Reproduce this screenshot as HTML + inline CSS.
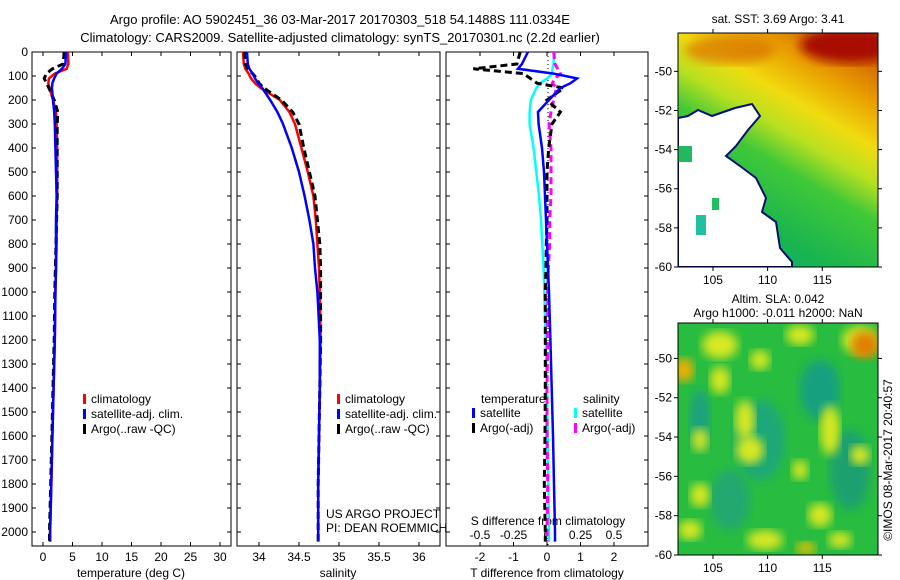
<!DOCTYPE html>
<html><head><meta charset="utf-8">
<style>
html,body{margin:0;padding:0;background:#fff;}
svg{display:block;font-family:"Liberation Sans",sans-serif;}
text{font-size:12px;fill:#000;}
</style></head>
<body>
<svg id="fig" width="900" height="580" viewBox="0 0 900 580" xmlns="http://www.w3.org/2000/svg">
<defs>
<linearGradient id="sstg" x1="0.75" y1="0" x2="0.25" y2="1">
<stop offset="0" stop-color="#d06800"/><stop offset="0.15" stop-color="#eaa000"/>
<stop offset="0.3" stop-color="#f0dc10"/><stop offset="0.42" stop-color="#b8e020"/>
<stop offset="0.55" stop-color="#40c838"/><stop offset="0.8" stop-color="#18b450"/><stop offset="1" stop-color="#10b080"/>
</linearGradient>
<filter id="blur"><feGaussianBlur stdDeviation="5"/></filter>
<clipPath id="m1c"><rect x="678" y="33" width="200" height="234"/></clipPath>
<clipPath id="m2c"><rect x="678" y="323" width="200" height="232"/></clipPath>
</defs>
<g>
<text x="340" y="24" text-anchor="middle" style="font-size:13px">Argo profile: AO 5902451_36 03-Mar-2017 20170303_518 54.1488S 111.0334E</text>
<text x="340" y="42" text-anchor="middle" style="font-size:13px">Climatology: CARS2009. Satellite-adjusted climatology: synTS_20170301.nc (2.2d earlier)</text>
</g>
<g id="plots"></g>
<g id="maps"></g>
</svg>
<script>
// ---- data ----
const depth = [0,50,70,90,110,130,150,200,250,300,400,500,600,700,800,900,1000,1200,1400,1600,1800,2000,2040];
const tempClim = [4.2,4.3,4.0,2.0,1.0,0.9,1.1,1.7,2.2,2.3,2.4,2.4,2.4,2.3,2.3,2.2,2.1,2.0,1.8,1.6,1.4,1.2,1.2];
const tempSat  = [3.9,3.8,3.2,2.3,1.9,1.6,1.5,1.7,1.9,2.0,2.1,2.2,2.3,2.2,2.2,2.2,2.1,2.0,1.8,1.6,1.4,1.2,1.2];
const tempArgo = [3.6,3.4,1.6,0.6,0.2,0.6,1.0,1.9,2.5,2.4,2.4,2.4,2.4,2.3,2.2,2.1,2.0,1.9,1.7,1.5,1.3,1.1,1.1];
const salClim = [33.8,33.81,33.83,33.87,33.9,33.95,34.02,34.26,34.38,34.45,34.53,34.61,34.68,34.71,34.73,34.75,34.76,34.77,34.76,34.75,34.74,34.74,34.74];
const salSat  = [33.85,33.86,33.88,33.92,33.95,33.99,34.04,34.14,34.23,34.3,34.41,34.5,34.57,34.63,34.68,34.7,34.73,34.76,34.76,34.75,34.74,34.74,34.74];
const salArgo = [33.82,33.83,33.86,33.92,33.97,34.0,34.06,34.28,34.42,34.5,34.56,34.63,34.7,34.73,34.76,34.77,34.77,34.77,34.76,34.75,34.74,34.74,34.74];
const dTsat  = [-0.57,-0.75,-0.87,0.2,0.9,0.7,0.4,0.06,-0.27,-0.25,-0.15,-0.09,-0.06,-0.03,0,0.03,0.06,0.1,0.14,0.18,0.21,0.24,0.24];
const dTargo = [-0.8,-0.9,-2.2,-0.7,-0.5,-0.3,0.5,0,0.4,0.15,0.05,0,0,0,-0.02,-0.03,-0.05,-0.05,-0.05,-0.06,-0.08,-0.05,-0.05];
const dSsat  = [0.05,0.05,0.04,0.04,0.0,-0.05,-0.08,-0.12,-0.13,-0.13,-0.1,-0.08,-0.06,-0.045,-0.035,-0.025,-0.02,-0.01,0,0.005,0.01,0.015,0.015];
const dSargo = [0.05,0.06,0.08,0.1,0.06,0.04,0.07,0.05,0.03,0.015,0.03,0.03,0.03,0.02,0.02,0.01,0.005,0.005,0,0,0.005,0,0];
const tTicks = [0,5,10,15,20,25,30];
const sTicks = [34,34.5,35,35.5,36];
const sTickLabels = ["34","34.5","35","35.5","36"];
const dTTicks = [-2,-1,0,1,2];
const dSTicks = [-0.5,-0.25,0,0.25,0.5];
const dSTickLabels = ["-0.5","-0.25","0","0.25","0.5"];
const depthTicks = [0,100,200,300,400,500,600,700,800,900,1000,1100,1200,1300,1400,1500,1600,1700,1800,1900,2000];
const latTicks = [-50,-52,-54,-56,-58,-60];
const lonTicks = [105,110,115];

const NS="http://www.w3.org/2000/svg";
function el(tag,attrs,parent,txt){const e=document.createElementNS(NS,tag);for(const k in attrs)e.setAttribute(k,attrs[k]);if(txt!==undefined)e.textContent=txt;parent.appendChild(e);return e;}
const plots=document.getElementById('plots');
const Y0=52,Y1=546;
const yD=d=>Y0+d*0.24;
function lin(d0,d1,p0,p1){return v=>p0+(v-d0)*(p1-p0)/(d1-d0);}
const P=[
 {x0:32,x1:231,sx:lin(0,30,43,220),name:'temperature-panel'},
 {x0:237,x1:440,sx:lin(34,36,259,419),name:'salinity-panel'},
 {x0:446,x1:648,sx:lin(-2,2,480,614),name:'difference-panel'}
];
P.forEach(p=>{
 const g=el('g',{},plots);
 
 
 p.g=g;
 el('rect',{x:p.x0,y:Y0,width:p.x1-p.x0,height:Y1-Y0,fill:'none',stroke:'#000','stroke-width':1},g);
 depthTicks.forEach(d=>{const y=yD(d);
  el('line',{x1:p.x0,x2:p.x0+4,y1:y,y2:y,stroke:'#000'},g);
  el('line',{x1:p.x1,x2:p.x1-4,y1:y,y2:y,stroke:'#000'},g);});
});
const yl=el('g',{},plots);


depthTicks.forEach(d=>el('text',{x:28,y:yD(d)+4,'text-anchor':'end'},yl,String(d)));
function xticks(p,ticks,labels,sx,ylab){
 ticks.forEach((t,i)=>{const x=sx(t);
  el('line',{x1:x,x2:x,y1:Y1,y2:Y1-4,stroke:'#000'},p.g);
  el('line',{x1:x,x2:x,y1:Y0,y2:Y0+4,stroke:'#000'},p.g);
  el('text',{x:x,y:ylab,'text-anchor':'middle'},p.g,labels[i]);});
}
xticks(P[0],tTicks,tTicks.map(String),P[0].sx,561);
xticks(P[1],sTicks,sTickLabels,P[1].sx,561);
xticks(P[2],dTTicks,dTTicks.map(String),P[2].sx,561);
const sxS=lin(-0.5,0.5,480,614);
dSTicks.forEach((t,i)=>el('text',{x:sxS(t),y:539,'text-anchor':'middle'},P[2].g,dSTickLabels[i]));
el('text',{x:548,y:525,'text-anchor':'middle'},P[2].g,'S difference from climatology');
el('text',{x:131,y:577,'text-anchor':'middle'},P[0].g,'temperature (deg C)');
el('text',{x:338,y:577,'text-anchor':'middle'},P[1].g,'salinity');
el('text',{x:547,y:577,'text-anchor':'middle'},P[2].g,'T difference from climatology');
el('text',{x:326,y:518},P[1].g,'US ARGO PROJECT');
el('text',{x:326,y:532},P[1].g,'PI: DEAN ROEMMICH');
el('line',{x1:548,x2:548,y1:Y0,y2:Y1,stroke:'#000','stroke-dasharray':'1,3'},P[2].g);
function series(p,vals,sx,color,dash,name){
 const pts=vals.map((v,i)=>sx(v).toFixed(1)+','+yD(depth[i]).toFixed(1)).join(' ');
 const pl=el('polyline',{points:pts,fill:'none',stroke:color,'stroke-width':dash?3:2.5,'stroke-dasharray':dash?'7,4':'none'},p.g);
 
 
}
series(P[0],tempClim,P[0].sx,'#f00',false,'temp-climatology-line');
series(P[0],tempArgo,P[0].sx,'#000',true,'temp-argo-line');
series(P[0],tempSat,P[0].sx,'#00f',false,'temp-satellite-line');
series(P[1],salClim,P[1].sx,'#f00',false,'sal-climatology-line');
series(P[1],salArgo,P[1].sx,'#000',true,'sal-argo-line');
series(P[1],salSat,P[1].sx,'#00f',false,'sal-satellite-line');
series(P[2],dSsat,sxS,'#0ff',false,'dsal-satellite-line');
series(P[2],dSargo,sxS,'#f0f',true,'dsal-argo-line');
series(P[2],dTargo,P[2].sx,'#000',true,'dtemp-argo-line');
series(P[2],dTsat,P[2].sx,'#00f',false,'dtemp-satellite-line');
function legend(p,x,y,items,name){
 const g=el('g',{},p.g);
 
 
 items.forEach((it,i)=>{el('rect',{x:x,y:y+i*15-5,width:3,height:10,fill:it[0]},g);
  el('text',{x:x+8,y:y+i*15+4},g,it[1]);});
}
legend(P[0],83,399,[['#f00','climatology'],['#00f','satellite-adj. clim.'],['#000','Argo(..raw -QC)']],'temp-legend');
legend(P[1],337,399,[['#f00','climatology'],['#00f','satellite-adj. clim.'],['#000','Argo(..raw -QC)']],'sal-legend');
el('text',{x:481,y:403},P[2].g,'temperature');
el('text',{x:583,y:403},P[2].g,'salinity');
legend(P[2],472,413,[['#00f','satellite'],['#000','Argo(-adj)']],'dtemp-legend');
legend(P[2],574,413,[['#0ff','satellite'],['#f0f','Argo(-adj)']],'dsal-legend');

// ---- maps ----
const maps=document.getElementById('maps');
function mapAxes(g,top,bot,latTop,latBot){
 const sy=lin(latTop,latBot,top,bot), sx=lin(101.8,120.1,678,878);
 el('rect',{x:678,y:top,width:200,height:bot-top,fill:'none',stroke:'#000'},g);
 latTicks.forEach(t=>{const y=sy(t);
  el('line',{x1:678,x2:674,y1:y,y2:y,stroke:'#000'},g);
  el('line',{x1:878,x2:882,y1:y,y2:y,stroke:'#000'},g);
  el('text',{x:672,y:y+4,'text-anchor':'end'},g,String(t));});
 lonTicks.forEach(t=>{const x=sx(t);
  el('line',{x1:x,x2:x,y1:bot,y2:bot+4,stroke:'#000'},g);
  el('line',{x1:x,x2:x,y1:top,y2:top-4,stroke:'#000'},g);
  el('text',{x:x,y:bot+17,'text-anchor':'middle'},g,String(t));});
}
const m1=el('g',{},maps);


const m1i=el('g',{'clip-path':'url(#m1c)'},m1);
el('rect',{x:678,y:33,width:200,height:234,fill:'url(#sstg)'},m1i);
el('ellipse',{cx:850,cy:45,rx:50,ry:18,fill:'#a81000',filter:'url(#blur)'},m1i);
el('ellipse',{cx:730,cy:50,rx:45,ry:14,fill:'#d87000',opacity:0.7,filter:'url(#blur)'},m1i);
el('polygon',{points:'678,118 688,116 698,110 712,116 735,108 752,104 760,116 748,130 736,146 726,156 740,166 756,178 766,198 762,212 776,222 780,248 792,262 792,267 678,267',fill:'#fff',stroke:'#00106e','stroke-width':2},m1i);
el('rect',{x:678,y:146,width:14,height:16,fill:'#20b860'},m1i);
el('rect',{x:696,y:215,width:10,height:20,fill:'#20c0a0'},m1i);
el('rect',{x:712,y:198,width:7,height:12,fill:'#20c060'},m1i);
mapAxes(m1,33,267,-48.04,-60);
el('text',{x:778,y:23,'text-anchor':'middle'},m1,'sat. SST: 3.69 Argo: 3.41');

const m2=el('g',{},maps);


const m2i=el('g',{'clip-path':'url(#m2c)'},m2);
el('rect',{x:678,y:323,width:200,height:232,fill:'#28bc40'},m2i);
[[700,420,10,30,'#1aa080'],[760,440,25,40,'#1ea878'],[820,390,20,30,'#18a080'],[850,470,20,40,'#1ca070'],[730,500,20,30,'#20a870']].forEach(e=>el('ellipse',{cx:e[0],cy:e[1],rx:e[2],ry:e[3],fill:e[4],filter:'url(#blur)'},m2i));
[[720,345,18,14],[800,335,14,10],[860,340,18,14],[700,495,10,12],[745,420,10,20],[750,450,14,14],[700,440,8,12],[830,430,10,25],[820,515,12,12],[765,540,18,10],[800,470,8,10],[860,455,10,10],[720,380,10,14],[760,360,10,10],[690,530,12,10],[840,540,12,8]].forEach(e=>el('ellipse',{cx:e[0],cy:e[1],rx:e[2],ry:e[3],fill:'#d8e820',filter:'url(#blur)'},m2i));
el('ellipse',{cx:865,cy:345,rx:14,ry:14,fill:'#e08000',filter:'url(#blur)'},m2i);
el('ellipse',{cx:684,cy:370,rx:10,ry:12,fill:'#f0b000',filter:'url(#blur)'},m2i);
el('ellipse',{cx:806,cy:548,rx:10,ry:6,fill:'#f0c000',filter:'url(#blur)'},m2i);
mapAxes(m2,323,555,-48.2,-60);
el('text',{x:778,y:303,'text-anchor':'middle'},m2,'Altim. SLA: 0.042');
el('text',{x:778,y:317,'text-anchor':'middle'},m2,'Argo h1000: -0.011 h2000: NaN');
const stamp=el('text',{x:0,y:0,transform:'translate(892,460) rotate(-90)','text-anchor':'middle'},maps,'©IMOS 08-Mar-2017 20:40:57');


</script>
</body></html>
